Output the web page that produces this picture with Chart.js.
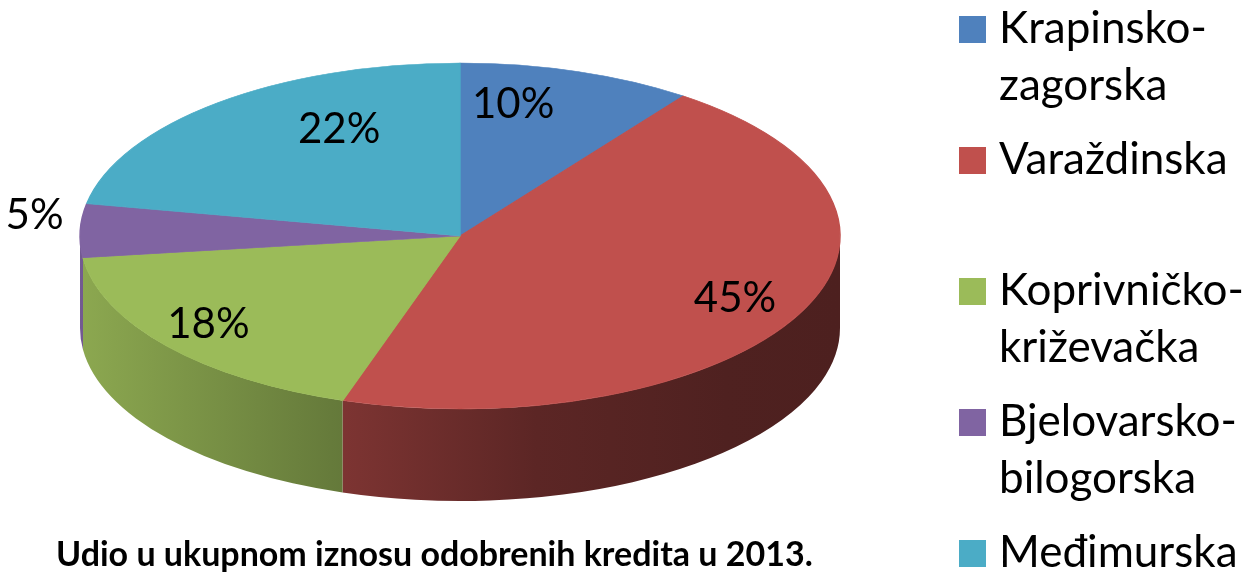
<!DOCTYPE html>
<html>
<head>
<meta charset="utf-8">
<script src="https://cdn.jsdelivr.net/npm/chart.js@4.4.1/dist/chart.umd.min.js"></script>
<style>
    html, body { margin: 0; padding: 0; background: #fff; }
    #wrap { width: 1245px; height: 575px; }
</style>
</head>
<body>
<div id="wrap"><canvas id="pieChart" width="1245" height="575"></canvas></div>
<script>
const regions = ['Krapinsko-zagorska', 'Varaždinska', 'Koprivničko-križevačka', 'Bjelovarsko-bilogorska', 'Međimurska'];
const shares = [10, 45, 18, 5, 22];
const sliceColors = ['#4F81BD', '#C0504D', '#9BBB59', '#8064A2', '#4BACC6'];
const chartTitle = 'Udio u ukupnom iznosu odobrenih kredita u 2013.';

// ellipse the flat pie is mapped onto, plus the height of the wall
const CX = 460, CY = 236, RX = 380, RY = 173, DEPTH = 92;
// wall shading left -> right (position, brightness factor)
const sideStops = [[0, 0.9], [0.33, 0.66], [0.6, 0.48], [0.85, 0.41], [1, 0.4]];

function shade(hex, k) {
    const n = parseInt(hex.slice(1), 16);
    const r = Math.round(((n >> 16) & 255) * k);
    const g = Math.round(((n >> 8) & 255) * k);
    const b = Math.round((n & 255) * k);
    return `rgb(${r},${g},${b})`;
}

const pie3d = {
    id: 'pie3d',
    beforeDatasetsDraw(chart) {
        const ctx = chart.ctx;
        const arcs = chart.getDatasetMeta(0).data;
        const colors = chart.data.datasets[0].backgroundColor;

        // outer wall, only the part facing the viewer
        arcs.forEach((arc, i) => {
            const { startAngle, endAngle } = arc.getProps(['startAngle', 'endAngle'], true);
            [0, 2 * Math.PI].forEach(base => {
                const a = Math.max(startAngle, base);
                const b = Math.min(endAngle, base + Math.PI);
                if (b <= a) return;
                const grad = ctx.createLinearGradient(CX - RX, 0, CX + RX, 0);
                sideStops.forEach(([p, k]) => grad.addColorStop(p, shade(colors[i], k)));
                ctx.beginPath();
                ctx.ellipse(CX, CY, RX, RY, 0, a, b);
                ctx.ellipse(CX, CY + DEPTH, RX, RY, 0, b, a, true);
                ctx.closePath();
                ctx.fillStyle = grad;
                ctx.fill();
            });
        });

        // squash the top face into the ellipse
        const a0 = arcs[0];
        ctx.save();
        ctx.translate(CX, CY);
        ctx.scale(RX / a0.outerRadius, RY / a0.outerRadius);
        ctx.translate(-a0.x, -a0.y);
    },
    afterDatasetsDraw(chart) {
        const ctx = chart.ctx;
        ctx.restore();

        const arcs = chart.getDatasetMeta(0).data;
        const values = chart.data.datasets[0].data;
        const total = values.reduce((s, v) => s + v, 0);
        ctx.save();
        ctx.fillStyle = '#000';
        ctx.font = '42px Lato';
        ctx.textAlign = 'center';
        ctx.textBaseline = 'middle';
        arcs.forEach((arc, i) => {
            const { startAngle, endAngle } = arc.getProps(['startAngle', 'endAngle'], true);
            const mid = (startAngle + endAngle) / 2;
            const frac = values[i] / total;
            let x, y;
            if (frac < 0.06) {
                x = CX + 1.12 * RX * Math.cos(mid);
                y = CY + 1.12 * RY * Math.sin(mid) - 14;
            } else {
                // back of the pie looks narrower, pull those labels inward
                const fx = 0.8 * (0.87 + 0.32 * Math.sin(mid));
                x = CX + fx * RX * Math.cos(mid);
                y = CY + 0.8 * RY * Math.sin(mid);
            }
            ctx.fillText(Math.round(frac * 100) + '%', x, y);
        });
        ctx.restore();
    }
};

const sideLegend = {
    id: 'sideLegend',
    afterDraw(chart) {
        const ctx = chart.ctx;
        const colors = chart.data.datasets[0].backgroundColor;
        ctx.save();
        ctx.font = '44px Lato';
        ctx.textAlign = 'left';
        ctx.textBaseline = 'alphabetic';
        chart.data.labels.forEach((label, i) => {
            const y0 = 43 + i * 131;
            ctx.fillStyle = colors[i];
            ctx.fillRect(959, y0 - 27, 27, 27);
            ctx.fillStyle = '#000';
            label.split(/(?<=-)/).forEach((line, j) => {
                ctx.fillText(line, 999, y0 + j * 57);
            });
        });
        ctx.restore();
    }
};

function build() {
    const ctx = document.getElementById('pieChart').getContext('2d');
    new Chart(ctx, {
        type: 'pie',
        data: {
            labels: regions,
            datasets: [{
                data: shares,
                backgroundColor: sliceColors,
                borderColor: sliceColors,
                borderWidth: 1,
                clip: false
            }]
        },
        options: {
            responsive: false,
            animation: false,
            events: [],
            layout: { padding: { left: 56, bottom: 0 } },
            plugins: {
                legend: { display: false },
                tooltip: { enabled: false },
                title: {
                    display: true,
                    position: 'bottom',
                    align: 'start',
                    text: chartTitle,
                    color: '#000',
                    font: { family: 'Lato', size: 34, weight: 'bold' },
                    padding: { top: 0, bottom: 0 }
                }
            }
        },
        plugins: [pie3d, sideLegend]
    });
}

document.addEventListener('DOMContentLoaded', () => {
    Promise.all([
        document.fonts.load('42px Lato'),
        document.fonts.load('bold 34px Lato')
    ]).then(build, build);
});
</script>
</body>
</html>
